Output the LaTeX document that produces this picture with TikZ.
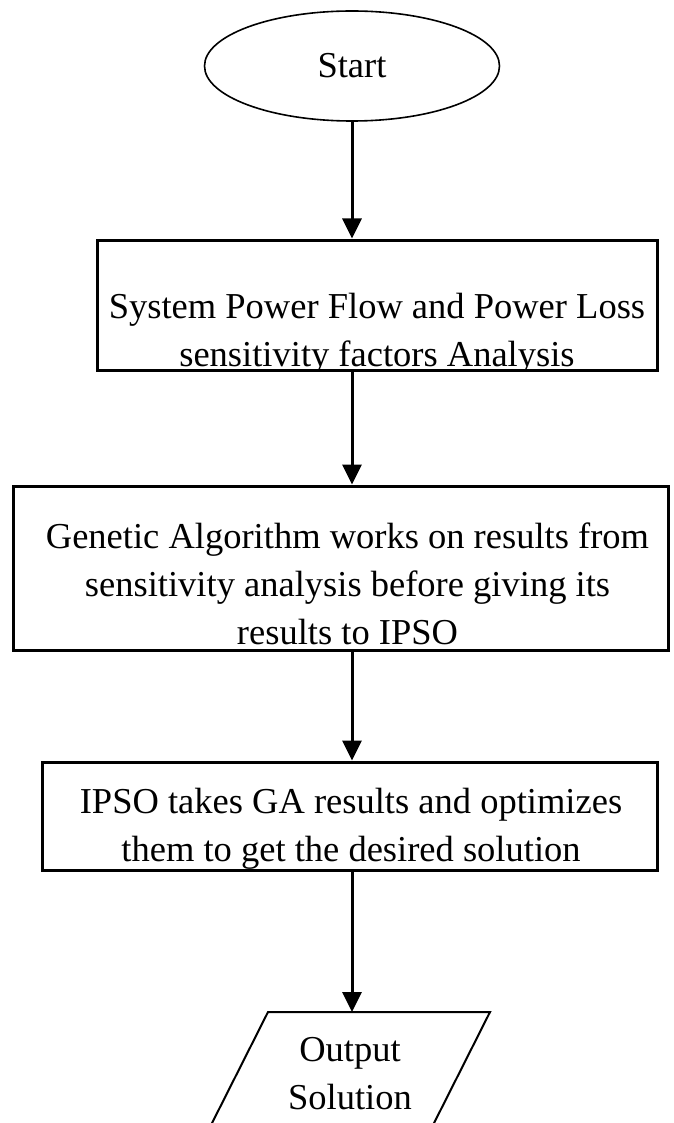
\documentclass[tikz,border=0pt]{standalone}
\usepackage{fontspec}
\setmainfont{Liberation Serif}
\usetikzlibrary{shapes.geometric,arrows.meta}

\begin{document}
\begin{tikzpicture}[x=1pt, y=-1pt,
    term/.style={ellipse, draw, line width=1.6pt, minimum width=295pt, minimum height=110pt, inner sep=0pt},
    proc/.style={rectangle, draw, line width=3pt, inner sep=0pt},
    label/.style={align=center, inner sep=0pt, font=\fontsize{36.5}{48}\selectfont},
    arrow/.style={-{Triangle[length=20pt, width=19pt]}, line width=3pt}
]
    \useasboundingbox (0,0) rectangle (673,1123);
    \clip (0,0) rectangle (673,1123);

    % Start
    \node[term, label] (start) at (352,66) {Start};

    % Process boxes
    \node[proc, minimum width=560pt, minimum height=130pt] (sys) at (377,305) {};
    \begin{scope}
        \clip (sys.south west) rectangle (sys.north east);
        \node[label] (systxt) at (377,334) {System Power Flow and Power Loss\\sensitivity factors Analysis};
    \end{scope}

    \node[proc, minimum width=655pt, minimum height=164pt] (ga) at (340.5,568) {};
    \begin{scope}
        \clip (ga.south west) rectangle (ga.north east);
        \node[label] (gatxt) at (347.5,584) {Genetic Algorithm works on results from\\sensitivity analysis before giving its\\results to IPSO};
    \end{scope}

    \node[proc, minimum width=615pt, minimum height=108pt] (ipso) at (349.5,816) {};
    \node[label] (ipsotxt) at (351,829) {IPSO takes GA results and optimizes\\them to get the desired solution};

    % Output
    \draw[line width=2pt, line join=miter] (268,1012) -- (490,1012) -- (427,1137) -- (205,1137) -- cycle;
    \coordinate (outtop) at (379,1012);
    \node[label] (out) at (350,1074) {Output\\Solution};

    % Arrows
    \draw[arrow] (start) -- (start |- sys.north);
    \draw[arrow] (sys.south -| start) -- (start |- ga.north);
    \draw[arrow] (ga.south -| start) -- (start |- ipso.north);
    \draw[arrow] (ipso.south -| start) -- (start |- outtop);
\end{tikzpicture}
\end{document}
